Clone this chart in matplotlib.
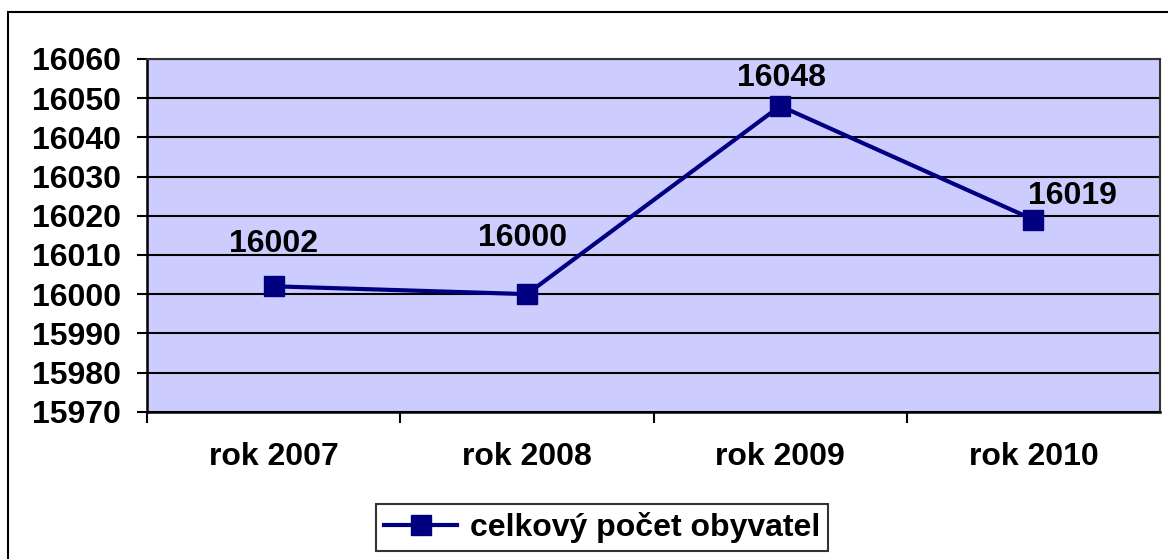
import matplotlib.pyplot as plt
from matplotlib.patches import Rectangle

categories = ["rok 2007", "rok 2008", "rok 2009", "rok 2010"]
values = [16002, 16000, 16048, 16019]
series_name = "celkový počet obyvatel"
y_ticks = list(range(15970, 16061, 10))

plt.rcParams["font.family"] = ["Liberation Sans", "DejaVu Sans"]
plt.rcParams["font.weight"] = "bold"
FS = 23

fig = plt.figure(figsize=(11.68, 5.59), dpi=100)
ax = fig.add_axes([0.1259, 0.2635, 0.8673, 0.631])

ax.set_facecolor("#ccccff")
x = list(range(len(categories)))
ax.plot(x, values, color="#000080", lw=3, marker="s", markersize=14,
        label=series_name, zorder=3, clip_on=False)

# label offsets in pixels (dx, dy)
offsets = [(0, 42), (-4, 56), (1, 28), (39, 24)]
for xi, v, (dx, dy) in zip(x, values, offsets):
    ax.annotate(str(v), (xi, v), xytext=(dx, dy), textcoords="offset pixels",
                ha="center", va="center", fontsize=FS, fontweight="bold")

ax.set_xlim(-0.5, 3.5)
ax.set_ylim(15970, 16060)
ax.set_yticks(y_ticks)
ax.set_yticklabels([str(t) for t in y_ticks], fontsize=FS, fontweight="bold")
ax.set_xticks([i + 0.5 for i in range(-1, 3)])
ax.set_xticklabels([])
ax.set_xticks(x, minor=True)
ax.set_xticklabels(categories, minor=True, fontsize=FS, fontweight="bold")
ax.tick_params(axis="x", which="minor", length=0, pad=22)
ax.tick_params(axis="x", which="major", length=8, width=1.5, direction="out")
ax.tick_params(axis="y", length=7, width=1.5, direction="out", pad=12)

ax.yaxis.grid(True, color="black", lw=1.5)
ax.set_axisbelow(True)
for side in ["left", "bottom"]:
    ax.spines[side].set_linewidth(1.8)
for side in ["top", "right"]:
    ax.spines[side].set_color("#333333")
    ax.spines[side].set_linewidth(1.5)

leg = fig.legend(loc="center", bbox_to_anchor=(0.5155, 0.0555), fontsize=FS,
                 frameon=True, fancybox=False, edgecolor="black",
                 handlelength=2.3, borderpad=0.25, handletextpad=0.4)
leg.get_frame().set_linewidth(1.5)

fig.patches.append(Rectangle((8 / 1168, -0.2), 1.5, 1.2 - 12 / 559,
                             transform=fig.transFigure, fill=False,
                             edgecolor="black", lw=1.5, clip_on=False))

fig.savefig("out.png", dpi=100)
